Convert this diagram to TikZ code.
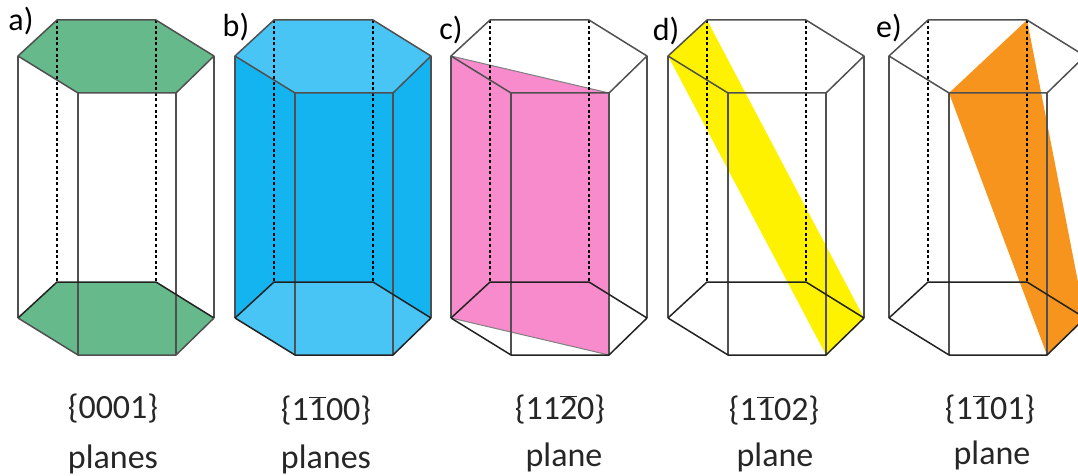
\documentclass[tikz,border=0pt]{standalone}
\usepackage{fontspec}
\setmainfont{Carlito}
\definecolor{mgreen}{HTML}{66B98B}
\definecolor{mblue}{HTML}{14B4F0}
\definecolor{mlightblue}{HTML}{48C4F5}
\definecolor{mpink}{HTML}{F78BCB}
\definecolor{myellow}{HTML}{FFF200}
\definecolor{morange}{HTML}{F7941D}
\definecolor{mline}{HTML}{505050}
\definecolor{mdark}{HTML}{222222}
\newcommand{\barred}[1]{\ensuremath{\overline{\mbox{#1}}}}
% corners of one prism: t = top, b = bottom, numbered round from the left
\newcommand{\prismpts}[2]{
  \coordinate (#1t1) at (#2,56);
  \coordinate (#1t2) at (#2+39,20);
  \coordinate (#1t3) at (#2+138,20);
  \coordinate (#1t4) at (#2+196,56);
  \coordinate (#1t5) at (#2+158,93);
  \coordinate (#1t6) at (#2+60,93);
  \coordinate (#1b1) at (#2,318);
  \coordinate (#1b2) at (#2+39,282);
  \coordinate (#1b3) at (#2+138,282);
  \coordinate (#1b4) at (#2+196,318);
  \coordinate (#1b5) at (#2+158,355);
  \coordinate (#1b6) at (#2+60,355);
}
\newcommand{\prismlines}[2][mdark]{
  \draw[hidden] (#2t2)--(#2b2) (#2t3)--(#2b3);
  \draw[edge] (#2t1)--(#2t2)--(#2t3)--(#2t4)--(#2t5)--(#2t6)--cycle;
  \draw[edge] (#2t1)--(#2b1) (#2t4)--(#2b4) (#2t5)--(#2b5) (#2t6)--(#2b6);
  \draw[edge, mdark] (#2b1)--(#2b2)--(#2b3)--(#2b4);
  \draw[edge, #1] (#2b4)--(#2b5)--(#2b6)--(#2b1);
}
\tikzset{
  edge/.style={draw=mline, line width=1.5pt, line join=round},
  hidden/.style={draw=black, line width=2pt, dash pattern=on 3pt off 2.6pt},
  panel/.style={font=\fontsize{32}{32}\selectfont, inner sep=0pt},
  caption/.style={font=\fontsize{34}{34}\selectfont, inner sep=0pt, text=black!85},
}
\begin{document}
\begin{tikzpicture}[x=1pt, y=-1pt]
  \useasboundingbox (0,0) rectangle (1078,476);
  \clip (0,0) rectangle (1078,476);

  \prismpts{a}{18}
  \prismpts{b}{235}
  \prismpts{c}{451}
  \prismpts{d}{668}
  \prismpts{e}{889}

  % a) basal
  \fill[mgreen] (at1)--(at2)--(at3)--(at4)--(at5)--(at6)--cycle;
  \fill[mgreen] (ab1)--(ab2)--(ab3)--(ab4)--(ab5)--(ab6)--cycle;
  \prismlines[mline]{a}

  % b) prism faces
  \fill[mblue] (bt1)--(bt2)--(bt3)--(bt4)--(bb4)--(bb5)--(bb6)--(bb1)--cycle;
  \fill[mlightblue] (bt1)--(bt2)--(bt3)--(bt4)--(bt5)--(bt6)--cycle;
  \fill[mlightblue] (bb1)--(bb2)--(bb3)--(bb4)--(bb5)--(bb6)--cycle;
  \prismlines{b}

  % c)
  \fill[mpink] (ct1)--(ct5)--(cb5)--(cb1)--cycle;
  \draw[line width=1pt, gray] (ct1)--(ct5) (cb1)--(cb5);
  \prismlines{c}

  % d)
  \fill[myellow] (dt1)--(dt2)--(db4)--(db5)--cycle;
  \prismlines{d}

  % e)
  \fill[morange] (et6)--(et3)--(eb4)--(eb5)--cycle;
  \prismlines{e}

  \node[panel] (la) at (21,21) {a)};
  \node[panel] (lb) at (236,27) {b)};
  \node[panel] (lc) at (451,30) {c)};
  \node[panel] (ld) at (666,31) {d)};
  \node[panel] (le) at (889,28) {e)};

  \node[caption] (capa) at (113,409) {\{0001\}};
  \node[caption] (capb) at (326,411) {\{1\barred{1}00\}};
  \node[caption] (capc) at (560,410) {\{11\barred{2}0\}};
  \node[caption] (capd) at (774,411) {\{1\barred{1}02\}};
  \node[caption] (cape) at (990,410) {\{1\barred{1}01\}};

  \node[caption] (nama) at (113,459) {planes};
  \node[caption] (namb) at (326,459) {planes};
  \node[caption] (namc) at (564,457) {plane};
  \node[caption] (namd) at (775,457) {plane};
  \node[caption] (name) at (992,455) {plane};
\end{tikzpicture}
\end{document}
